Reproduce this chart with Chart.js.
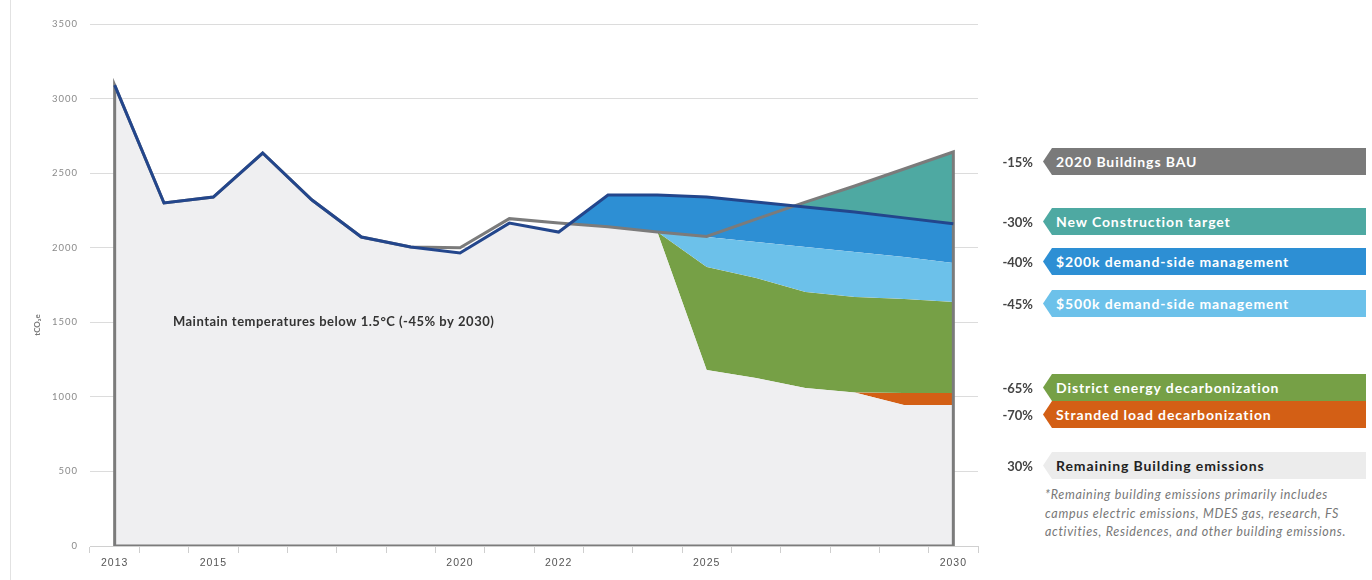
<!DOCTYPE html>
<html>
<head>
<meta charset="utf-8">
<script src="https://cdn.jsdelivr.net/npm/chart.js@4.4.1/dist/chart.umd.min.js"></script>
<style>
  html, body { margin: 0; padding: 0; background: #fff; }
  body { width: 1372px; height: 580px; position: relative; overflow: hidden; font-family: Lato, "Open Sans", sans-serif; }
  #edge { position: absolute; left: 10px; top: 0; width: 1px; height: 580px; background: #e2e2e2; }
  #chart { position: absolute; left: 0; top: 0; }
  .pct { position: absolute; left: 985px; width: 48px; text-align: right; font-size: 13px; font-weight: 700; color: #444; }
  .tag { position: absolute; left: 1043px; width: 323px; height: 27px; line-height: 27px; padding-left: 13px; box-sizing: border-box;
         font-size: 14px; font-weight: 700; color: #fff; letter-spacing: 0.9px; white-space: nowrap;
         clip-path: polygon(9px 0, 100% 0, 100% 100%, 9px 100%, 0 50%); }
  .note { position: absolute; left: 1045px; top: 486px; font-size: 12.5px; font-style: italic; color: #777; line-height: 18.5px; letter-spacing: 0.7px; white-space: nowrap; }
</style>
</head>
<body>
<div id="edge"></div>
<canvas id="chart" width="990" height="580"></canvas>
<div id="legend"></div>
<div class="note">*Remaining building emissions primarily includes<br>campus electric emissions, MDES gas, research, FS<br>activities, Residences, and other building emissions.</div>
<script>
// 연도 / 값 (tCO2e) — 그림에서 읽은 값
const years = [2013, 2014, 2015, 2016, 2017, 2018, 2019, 2020, 2021, 2022, 2023, 2024, 2025, 2026, 2027, 2028, 2029, 2030];
const labeledYears = [2013, 2015, 2020, 2022, 2025, 2030];
const yTicks = [0, 500, 1000, 1500, 2000, 2500, 3000, 3500];

// 파란 선: 실적 + 신축 목표 반영 경로
const total = [3090, 2300, 2340, 2635, 2320, 2072, 2005, 1965, 2165, 2105, 2353, 2353, 2340, 2306, 2273, 2240, 2200, 2160];
// 회색 선: 2020 Buildings BAU
const bau = [3090, 2300, 2340, 2635, 2320, 2072, 2005, 2000, 2195, 2165, 2140, 2105, 2075, 2192, 2306, 2414, 2528, 2642];

// 2025~2030 각 감축 구간의 아래 경계
const dsm200Floor = [2072, 2038, 2005, 1971, 1938, 1897];
const dsm500Floor = [1871, 1797, 1703, 1670, 1656, 1636];
const districtFloor = [1180, 1126, 1059, 1030, 1026, 1026];
const strandedFloor = [1180, 1126, 1059, 1030, 945, 945];

const legendItems = [
  { pct: "-15%", label: "2020 Buildings BAU", bg: "#7a7a7a", fg: "#fff", top: 148 },
  { pct: "-30%", label: "New Construction target", bg: "#4ea9a2", fg: "#fff", top: 208 },
  { pct: "-40%", label: "$200k demand-side management", bg: "#2d8fd4", fg: "#fff", top: 248 },
  { pct: "-45%", label: "$500k demand-side management", bg: "#6cc1ea", fg: "#fff", top: 290 },
  { pct: "-65%", label: "District energy decarbonization", bg: "#76a046", fg: "#fff", top: 374 },
  { pct: "-70%", label: "Stranded load decarbonization", bg: "#d35f15", fg: "#fff", top: 401 },
  { pct: "30%", label: "Remaining Building emissions", bg: "#ececec", fg: "#222", top: 452 },
];

const COLORS = {
  navy: "#23468c",
  gray: "#7b7b7b",
  teal: "#4ea9a2",
  blue: "#2d8fd4",
  lightBlue: "#6cc1ea",
  green: "#76a046",
  orange: "#d35f15",
  base: "#efeff1",
};

const early = bau.slice(0, 12); // 2013~2024
const pts = (arr) => years.map((x, i) => ({ x, y: arr[i] }));

function band(data, target, color, order) {
  return {
    data: pts(data),
    borderColor: "transparent",
    borderWidth: 0,
    pointRadius: 0,
    tension: 0,
    fill: { target, above: color, below: "transparent" },
    order,
  };
}

function renderLegend() {
  const box = document.getElementById("legend");
  legendItems.forEach((it) => {
    const p = document.createElement("div");
    p.className = "pct";
    p.style.top = it.top + 6 + "px";
    p.textContent = it.pct;
    const t = document.createElement("div");
    t.className = "tag";
    t.style.top = it.top + "px";
    t.style.background = it.bg;
    t.style.color = it.fg;
    t.textContent = it.label;
    box.appendChild(p);
    box.appendChild(t);
  });
}

// 축 글자 간격: 원본처럼 조금 벌려서 그림
const spacingPlugin = {
  id: "spacing",
  beforeDraw(chart) { chart.ctx.letterSpacing = "1px"; },
  beforeDatasetsDraw(chart) { chart.ctx.letterSpacing = "0px"; },
};

const textPlugin = {
  id: "texts",
  afterDraw(chart) {
    const { ctx, scales } = chart;
    ctx.save();
    ctx.fillStyle = "#333";
    ctx.font = "bold 13px Lato";
    ctx.letterSpacing = "0.5px";
    ctx.textBaseline = "middle";
    ctx.fillText("Maintain temperatures below 1.5°C (-45% by 2030)", scales.x.getPixelForValue(2014.18), scales.y.getPixelForValue(1500));
    ctx.translate(37, 325);
    ctx.rotate(-Math.PI / 2);
    ctx.textAlign = "center";
    ctx.fillStyle = "#777";
    ctx.font = "bold 8px Lato";
    ctx.letterSpacing = "0px";
    ctx.fillText("tCO₂e", 0, 0);
    ctx.restore();
  },
};

function renderChart() {
  const bauOutline = [{ x: years[0], y: 0 }, ...pts(bau), { x: years[years.length - 1], y: 0 }, { x: years[0], y: 0 }];
  new Chart(document.getElementById("chart"), {
    type: "line",
    data: {
      datasets: [
        { data: pts(total), borderColor: COLORS.navy, borderWidth: 3, pointRadius: 0, tension: 0, fill: false, order: 0 },
        { data: bauOutline, borderColor: COLORS.gray, borderWidth: 3, pointRadius: 0, tension: 0, fill: false, order: 1 },
        band(bau.map((v, i) => (years[i] >= 2025 ? v : null)), 3, COLORS.teal, 2),
        band(total, 4, COLORS.blue, 3),
        band(early.concat(dsm200Floor), 5, COLORS.lightBlue, 4),
        band(early.concat(dsm500Floor), 6, COLORS.green, 5),
        band(early.concat(districtFloor), 7, COLORS.orange, 6),
        { data: pts(early.concat(strandedFloor)), borderColor: "transparent", borderWidth: 0, pointRadius: 0, fill: false, order: 7 },
        { data: pts(total), borderColor: "transparent", borderWidth: 0, pointRadius: 0, tension: 0, fill: { target: "origin", above: COLORS.base }, backgroundColor: COLORS.base, order: 8 },
      ],
    },
    options: {
      responsive: false,
      animation: false,
      layout: { padding: { left: 10, right: 12, top: 24, bottom: 0 } },
      plugins: { legend: { display: false }, tooltip: { enabled: false } },
      scales: {
        x: {
          type: "linear",
          min: 2012.5,
          max: 2030.5,
          afterBuildTicks: (s) => { s.ticks = years.map((v) => ({ value: v })); },
          afterFit: (s) => { s.height = 34; },
          ticks: {
            autoSkip: false,
            maxRotation: 0,
            color: "#555",
            font: { family: "Liberation Sans", size: 10.5 },
            padding: 4,
            callback: (v) => (labeledYears.includes(v) ? String(v) : ""),
          },
          grid: { drawOnChartArea: false, offset: true, tickLength: 7, color: "#cfcfcf" },
          border: { display: true, color: "#d0d0d0" },
        },
        y: {
          min: 0,
          max: 3500,
          afterBuildTicks: (s) => { s.ticks = yTicks.map((v) => ({ value: v })); },
          afterFit: (s) => { s.width = 80; },
          ticks: { color: "#8a8a8a", font: { family: "Lato", size: 9.5 }, padding: 12, callback: (v) => String(v) },
          grid: { color: "#dcdcdc", drawTicks: false },
          border: { display: false },
        },
      },
    },
    plugins: [spacingPlugin, textPlugin],
  });
}

renderLegend();
renderChart();
</script>
</body>
</html>
